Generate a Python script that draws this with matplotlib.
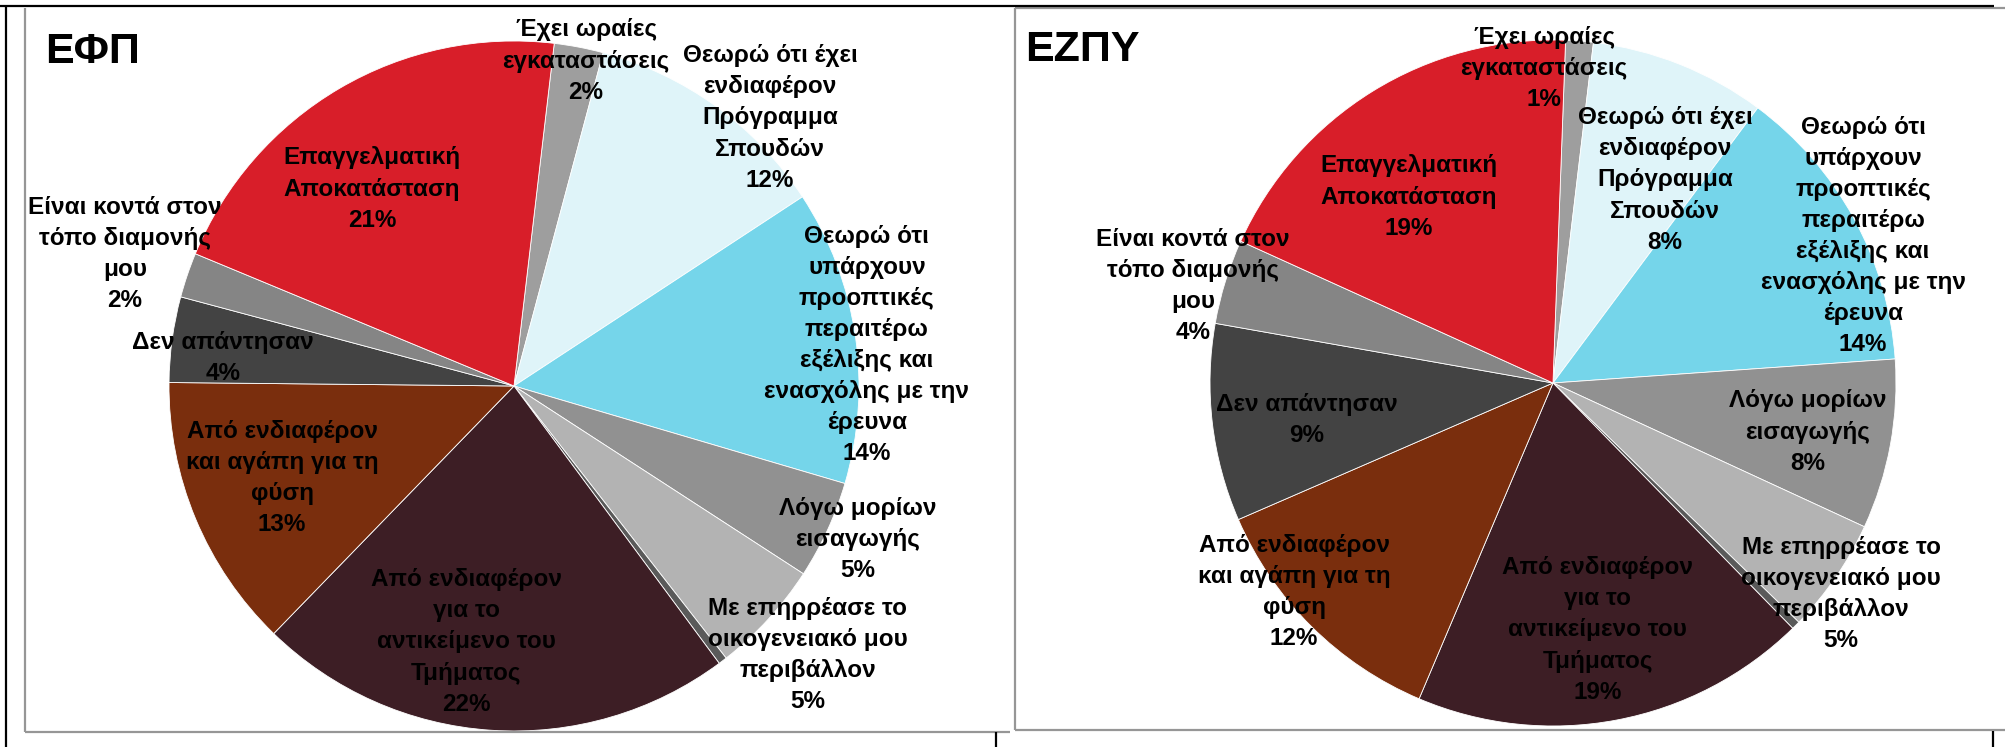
from matplotlib import pyplot
from matplotlib.lines import Line2D
import matplotlib

matplotlib.rcParams['font.family'] = ['Liberation Sans', 'DejaVu Sans']

# categories in drawing order (clockwise from the top)
categories = [
    'Έχει ωραίες\nεγκαταστάσεις',
    'Θεωρώ ότι έχει\nενδιαφέρον\nΠρόγραμμα\nΣπουδών',
    'Θεωρώ ότι\nυπάρχουν\nπροοπτικές\nπεραιτέρω\nεξέλιξης και\nενασχόλης με την\nέρευνα',
    'Λόγω μορίων\nεισαγωγής',
    'Με επηρρέασε το\nοικογενειακό μου\nπεριβάλλον',
    'Άλλο',
    'Από ενδιαφέρον\nγια το\nαντικείμενο του\nΤμήματος',
    'Από ενδιαφέρον\nκαι αγάπη για τη\nφύση',
    'Δεν απάντησαν',
    'Είναι κοντά στον\nτόπο διαμονής\nμου',
    'Επαγγελματική\nΑποκατάσταση',
]
efp_values = [2.3, 11.6, 13.8, 4.6, 5.3, 0.4, 22.4, 12.9, 4.0, 2.1, 20.6]
ezpy_values = [1.3, 8.3, 13.7, 8.0, 5.4, 0.4, 18.7, 12.1, 9.3, 4.0, 18.8]
titles = ['ΕΦΠ', 'ΕΖΠΥ']

colors = ['#9e9e9e', '#dff4f9', '#75d5ea', '#919191', '#b3b3b3', '#5a5a5a',
          '#3d1e25', '#7a2e0d', '#434343', '#858585', '#d81e29']

# label offsets in units of the radius (x right, y down)
efp_label_pos = [(0.209, -0.942), (0.742, -0.777), (1.023, -0.119), (0.997, 0.446),
                 (0.852, 0.780), None, (-0.139, 0.742), (-0.672, 0.267),
                 (-0.843, -0.081), (-1.128, -0.383), (-0.412, -0.571)]
ezpy_label_pos = [(-0.026, -0.918), (0.327, -0.592), (0.904, -0.429), (0.743, 0.143),
                  (0.840, 0.615), None, (0.131, 0.720), (-0.755, 0.609),
                  (-0.717, 0.108), (-1.050, -0.283), (-0.420, -0.542)]

W, H = 2006, 747
fig = pyplot.figure(figsize=(W / 100, H / 100), dpi=100)
ax = fig.add_axes([0, 0, 1, 1])

panels = [
    (efp_values, efp_label_pos, (514, 386), 345, 83.3, (45, 52)),
    (ezpy_values, ezpy_label_pos, (1553, 383), 343, 87.9, (1025, 50)),
]

for (values, label_pos, (cx, cy), r, start, (tx, ty)), title in zip(panels, titles):
    ax.pie(values, colors=colors, startangle=start, counterclock=False,
           center=(cx, H - cy), radius=r,
           wedgeprops=dict(edgecolor='white', linewidth=0.6))
    total = sum(values)
    for name, v, pos in zip(categories, values, label_pos):
        if pos is None:
            continue
        txt = f'{name}\n{round(v / total * 100):.0f}%'
        ax.text(cx + pos[0] * r, H - cy - pos[1] * r, txt, ha='center', va='center',
                fontsize=17.5, fontweight='bold', color='black', linespacing=1.45)
    ax.text(tx, H - ty, title, ha='left', va='center', fontsize=31,
            fontweight='bold', color='black')

ax.set_xlim(0, W)
ax.set_ylim(0, H)
ax.axis('off')

# frames
gray = '#969696'
frame_lines = [
    ([25, 25], [H - 8, H - 732], gray),
    ([25, 1010], [H - 732, H - 732], gray),
    ([1015, 1015], [H - 8, H - 730], gray),
    ([1015, W], [H - 730, H - 730], gray),
    ([1015, W], [H - 8, H - 8], gray),
    ([0, 1994], [H - 6, H - 6], 'black'),
    ([6, 6], [H - 6, 0], 'black'),
    ([996, 996], [H - 732, 0], 'black'),
    ([1993, 1993], [H - 731, 0], 'black'),
]
for xs, ys, c in frame_lines:
    ax.add_line(Line2D(xs, ys, color=c, linewidth=1.6, solid_capstyle='butt'))

fig.savefig('out.png', dpi=100)
